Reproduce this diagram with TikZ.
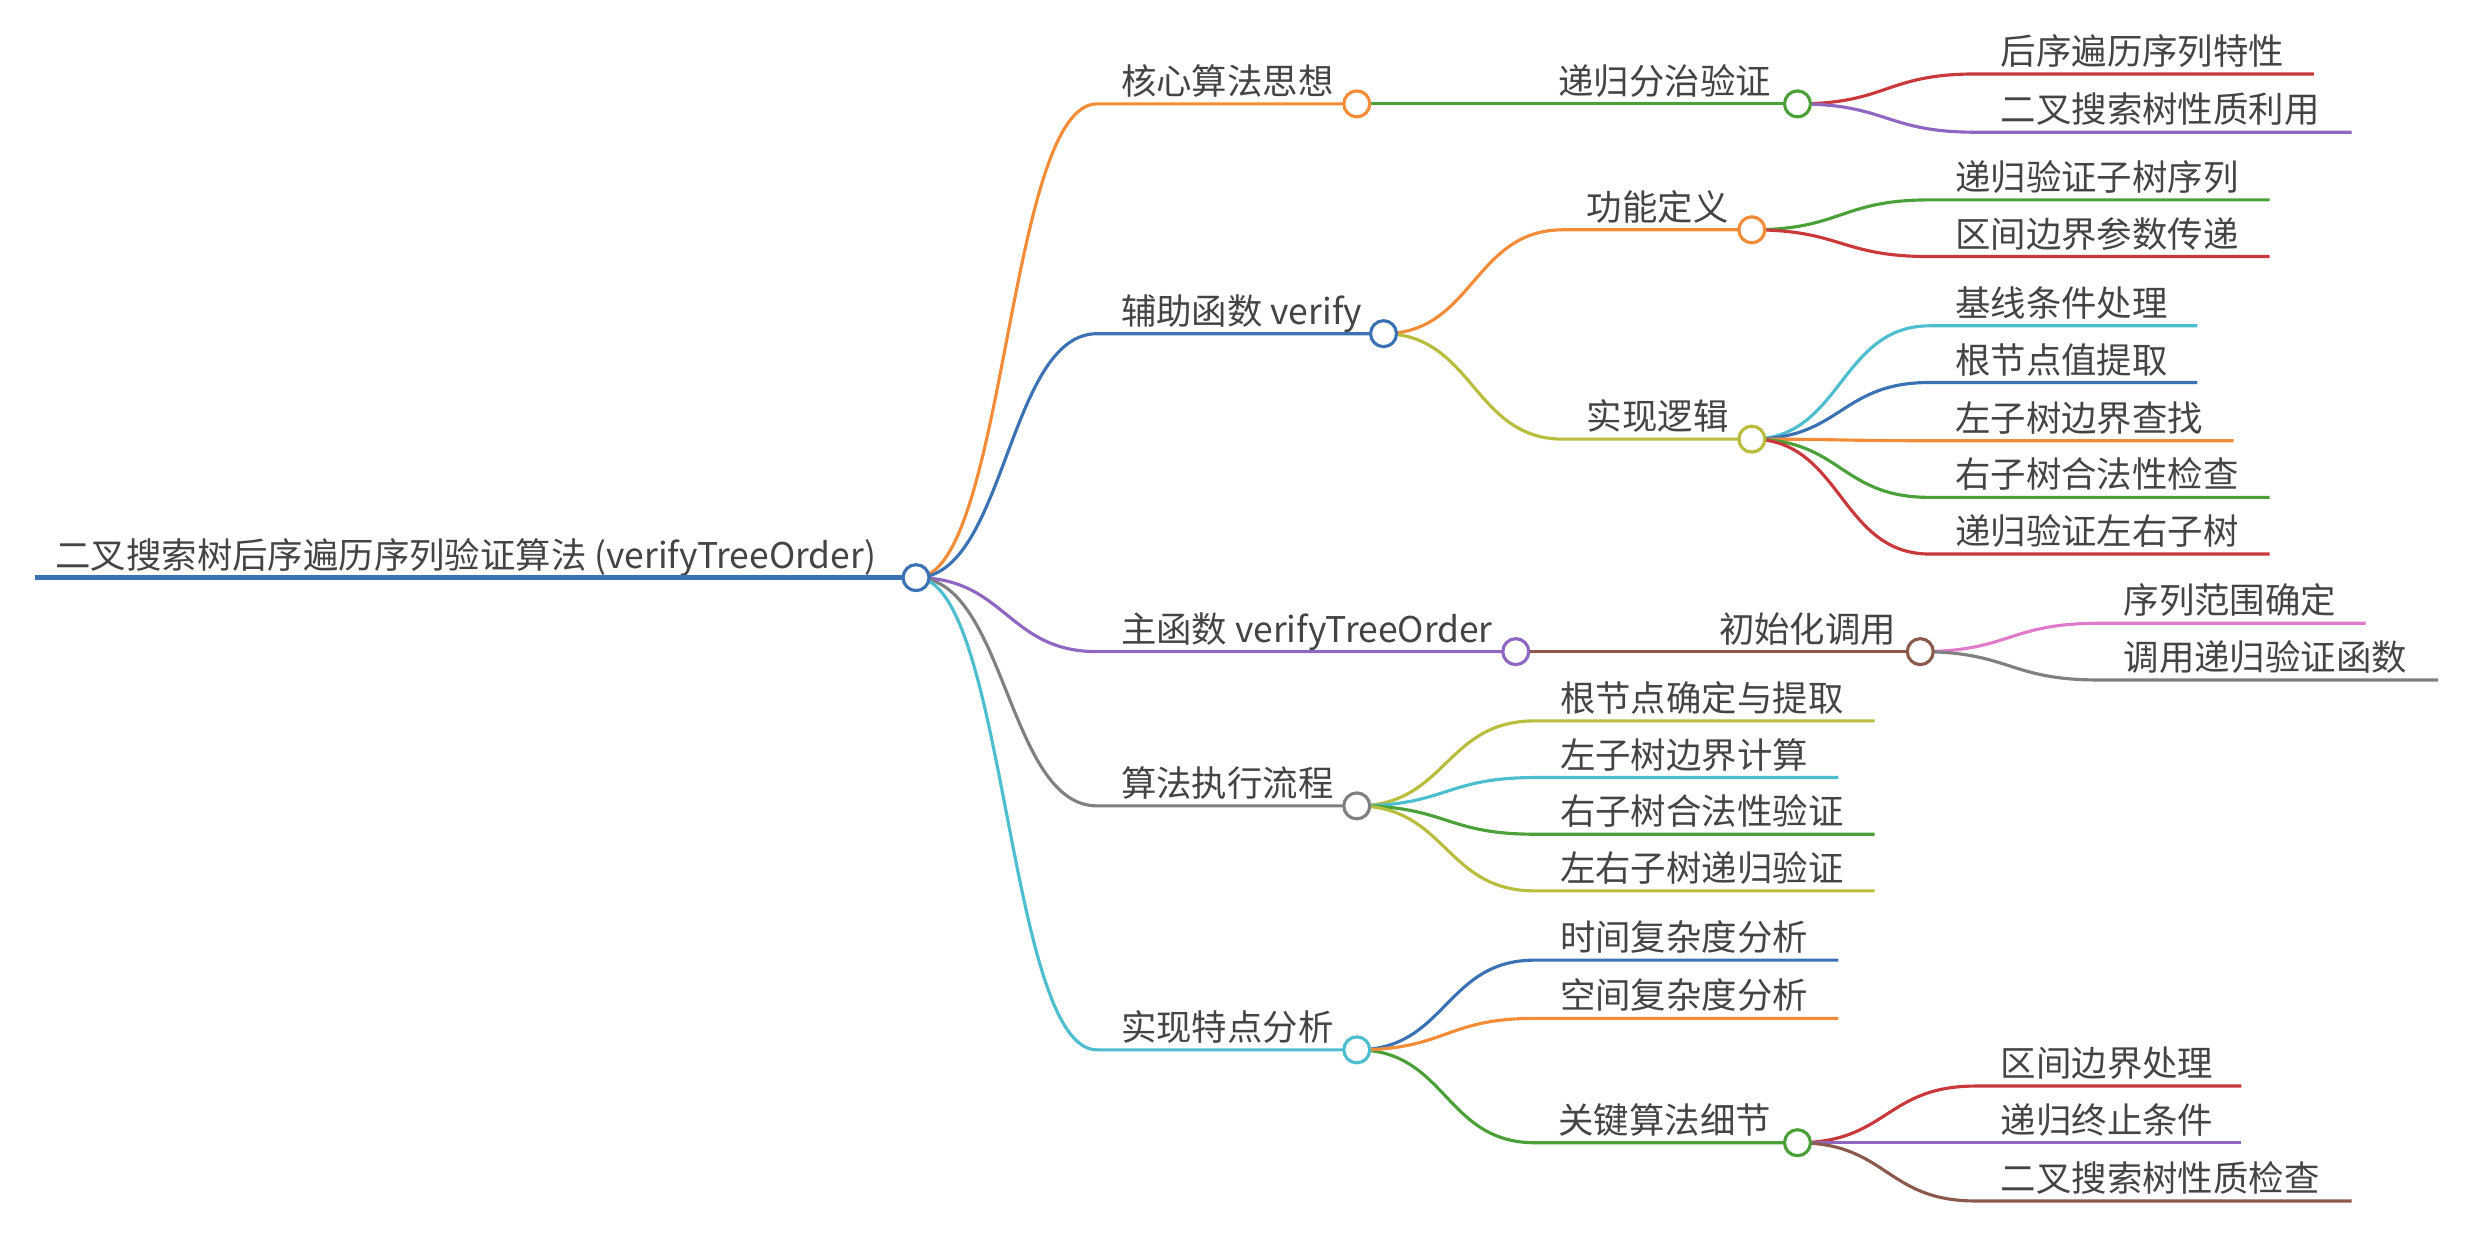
\documentclass[tikz,border=0pt]{standalone}
\usepackage{fontspec}
\newfontfamily\cjk{Noto Sans CJK SC}
\usetikzlibrary{positioning}

\definecolor{mBlue}{HTML}{3B72B4}
\definecolor{mOrange}{HTML}{F28C38}
\definecolor{mGreen}{HTML}{4BA03A}
\definecolor{mRed}{HTML}{C9383A}
\definecolor{mPurple}{HTML}{9067C0}
\definecolor{mBrown}{HTML}{8B5A4D}
\definecolor{mPink}{HTML}{E07BCB}
\definecolor{mGray}{HTML}{808080}
\definecolor{mOlive}{HTML}{B8BD3D}
\definecolor{mCyan}{HTML}{4DBDD0}
\definecolor{txt}{HTML}{444444}

\tikzset{
  topic/.style={anchor=base west, inner sep=0pt, text=txt, font=\cjk\fontsize{22.5}{26}\selectfont},
  knob/.style={circle, draw=#1, fill=white, line width=2pt, minimum size=16.5pt, inner sep=0pt},
  stem/.style={draw=#1, line width=2pt},
}

\begin{document}
\begin{tikzpicture}[x=1pt,y=-1pt]
  \useasboundingbox (0,0) rectangle (1568,797);

  % Root topic
  \coordinate (root-s) at (22,367);
  \coordinate (root-k) at (582,367);
  \node[topic] (root) at (35,361) {二叉搜索树后序遍历序列验证算法 (verifyTreeOrder)};
  \draw[stem=mBlue, line width=2.8pt] (root-s) -- (root-k);

  % Topics that carry a knob
  \foreach \up/\nm/\yy/\xs/\xk/\lbl/\col in {
      root/a/66/697/862/核心算法思想/mOrange,
      root/b/212/697/879/辅助函数 verify/mBlue,
      root/c/414/697/963/主函数 verifyTreeOrder/mPurple,
      root/d/512/697/862/算法执行流程/mGray,
      root/e/667/697/862/实现特点分析/mCyan,
      a/a1/66/975/1142/递归分治验证/mGreen,
      b/b1/146/993/1113/功能定义/mOrange,
      b/b2/279/993/1113/实现逻辑/mOlive,
      c/c1/414/1077/1220/初始化调用/mBrown,
      e/e3/726/975/1142/关键算法细节/mGreen} {
    \coordinate (\nm-s) at (\xs,\yy);
    \coordinate (\nm-k) at (\xk,\yy);
    \node[topic] (\nm) at ({\xs+15},{\yy-6}) {\lbl};
    \draw[stem=\col] (\up-k) .. controls +(57,0) and +(-57,0) .. (\nm-s) -- (\nm-k);
  }

  % Leaves
  \foreach \up/\nm/\yy/\xs/\xe/\lbl/\col in {
      a1/a11/47/1255/1470/后序遍历序列特性/mRed,
      a1/a12/84/1255/1494/二叉搜索树性质利用/mPurple,
      b1/b11/127/1226/1442/递归验证子树序列/mGreen,
      b1/b12/163/1226/1442/区间边界参数传递/mRed,
      b2/b21/207/1226/1396/基线条件处理/mCyan,
      b2/b22/243/1226/1396/根节点值提取/mBlue,
      b2/b23/280/1226/1419/左子树边界查找/mOrange,
      b2/b24/316/1226/1442/右子树合法性检查/mGreen,
      b2/b25/352/1226/1442/递归验证左右子树/mRed,
      c1/c11/396/1333/1503/序列范围确定/mPink,
      c1/c12/432/1333/1549/调用递归验证函数/mGray,
      d/d1/458/975/1191/根节点确定与提取/mOlive,
      d/d2/494/975/1168/左子树边界计算/mCyan,
      d/d3/530/975/1191/右子树合法性验证/mGreen,
      d/d4/566/975/1191/左右子树递归验证/mOlive,
      e/e1/610/975/1168/时间复杂度分析/mBlue,
      e/e2/647/975/1168/空间复杂度分析/mOrange,
      e3/e31/690/1255/1424/区间边界处理/mRed,
      e3/e32/726/1255/1424/递归终止条件/mPurple,
      e3/e33/763/1255/1494/二叉搜索树性质检查/mBrown} {
    \coordinate (\nm-s) at (\xs,\yy);
    \coordinate (\nm-e) at (\xe,\yy);
    \node[topic] (\nm) at ({\xs+16},{\yy-6}) {\lbl};
    \draw[stem=\col] (\up-k) .. controls +(57,0) and +(-57,0) .. (\nm-s) -- (\nm-e);
  }

  % Knobs on top
  \foreach \nm/\col in {root/mBlue, a/mOrange, b/mBlue, c/mPurple, d/mGray, e/mCyan,
      a1/mGreen, b1/mOrange, b2/mOlive, c1/mBrown, e3/mGreen}
    \node[knob=\col] (\nm-dot) at (\nm-k) {};
\end{tikzpicture}
\end{document}
